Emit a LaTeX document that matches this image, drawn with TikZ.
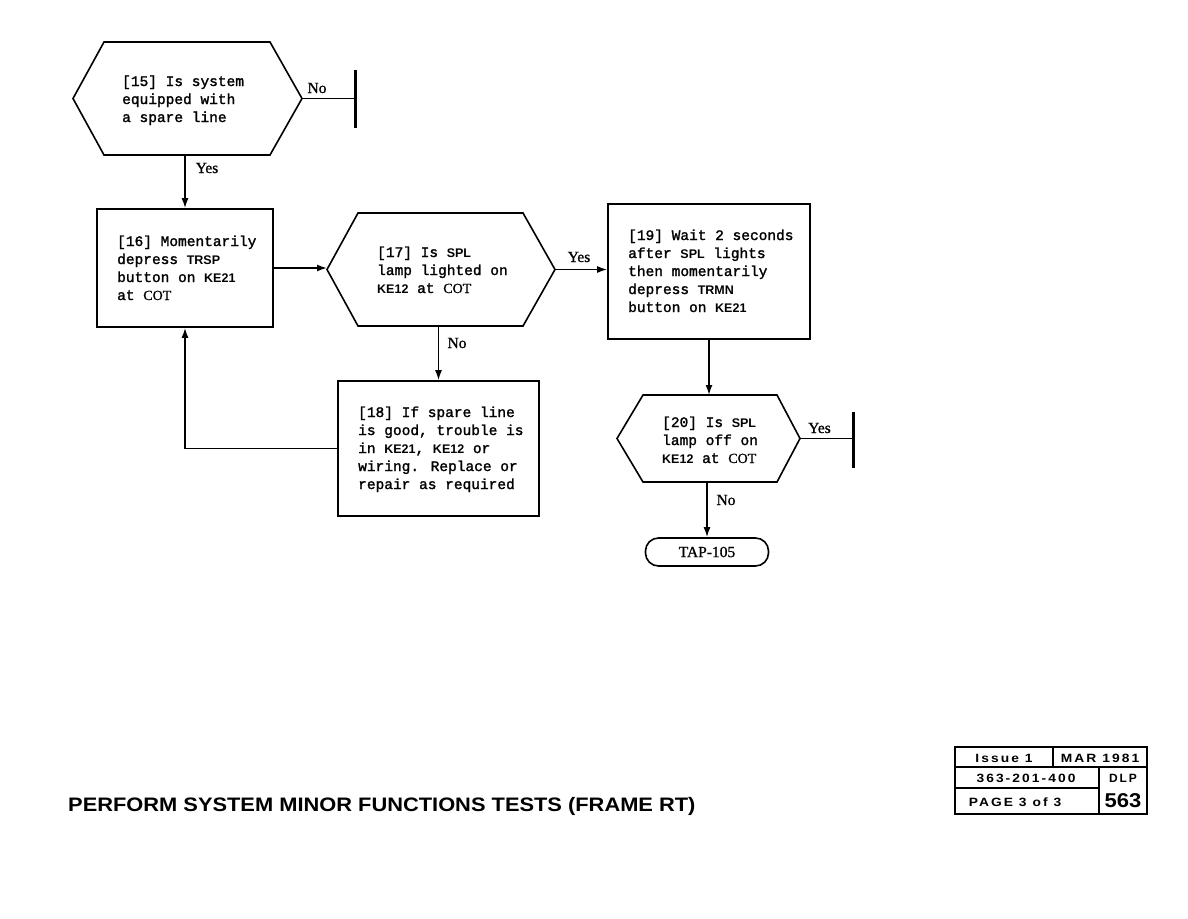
\documentclass[tikz,border=0pt]{standalone}
\usepackage{graphicx}
\usepackage{fontspec}
\usetikzlibrary{arrows.meta,calc}
\newfontfamily\hv{Liberation Sans}
\newfontfamily\hvs{Liberation Sans}[LetterSpace=15]
\newfontfamily\tm{Liberation Serif}[FakeBold=1]
\newfontfamily\mono{Liberation Mono}[FakeBold=1.6]
\newcommand\kw[1]{{\hv\bfseries\fontsize{12.5}{18}\selectfont #1}}
\newcommand\cotxt{{\tm\fontsize{14}{18}\selectfont COT}}
\newcommand\blk[1]{\begin{tabular}[t]{@{}l@{}}#1\end{tabular}}
\newcommand\drawhex[3]{\draw[hexline] (#1.west) -- ($(#1.north west)+(#2pt,0)$) -- ($(#1.north east)+(-#3pt,0)$) -- (#1.east) -- ($(#1.south east)+(-#3pt,0)$) -- ($(#1.south west)+(#2pt,0)$) -- cycle;}
\tikzset{
  box/.style={draw, line width=1.6pt, inner sep=0},
  hexbb/.style={inner sep=0, outer sep=0, draw=none},
  hexline/.style={line width=1.6pt, line join=miter},
  txt/.style={anchor=base west, inner sep=0, font=\mono\fontsize{14.5}{18}\selectfont},
  lbl/.style={inner sep=0, font=\tm\fontsize{15.5}{18}\selectfont},
  conn/.style={line width=1.6pt, -{Latex[length=10pt,width=7pt]}},
  plain/.style={line width=1.6pt},
  bar/.style={line width=3pt},
  tb/.style={inner sep=0, anchor=base, font=\hvs\bfseries\fontsize{12}{12}\selectfont},
}
\begin{document}
\begin{tikzpicture}[x=1pt,y=-1pt]
\useasboundingbox[fill=white] (0,0) rectangle (1188,918);

% [15]
\node[hexbb, minimum width=229pt, minimum height=113pt] (h15) at (187.5,98.5) {};
\drawhex{h15}{31}{32}
\node[txt] (t15) at (122,86) {\blk{[15] Is system\\ equipped with\\ a spare line}};
\coordinate (s15) at (355,98.5);
\draw[plain] (h15.east) -- (s15);
\draw[bar] ($(s15)+(0,-29)$) -- ($(s15)+(0,29)$);
\node[lbl] (no15) at (317,88) {No};

% [16]
\node[box, minimum width=176pt, minimum height=118pt] (b16) at (185,268) {};
\node[txt] (t16) at (117,246) {\blk{[16] Momentarily\\ depress \kw{TRSP}\\ button on \kw{KE21}\\ at \cotxt}};
\draw[conn] (b16.north |- h15.south) -- (b16.north);
\node[lbl] (yes15) at (207,168) {Yes};

% [17]
\node[hexbb, minimum width=228pt, minimum height=113pt] (h17) at (441,269.5) {};
\drawhex{h17}{31}{32}
\node[txt] (t17) at (377,257) {\blk{[17] Is \kw{SPL}\\ lamp lighted on\\ \kw{KE12} at \cotxt}};
\draw[conn] (b16.east) -- (b16.east -| h17.west);

% [19]
\node[box, minimum width=202pt, minimum height=135pt] (b19) at (709,271.5) {};
\node[txt] (t19) at (628,240) {\blk{[19] Wait 2 seconds\\ after \kw{SPL} lights\\ then momentarily\\ depress \kw{TRMN}\\ button on \kw{KE21}}};
\draw[conn] (h17.east) -- (h17.east -| b19.west);
\node[lbl] (yes17) at (579,257) {Yes};

% [18]
\node[box, minimum width=201pt, minimum height=135pt] (b18) at (438.5,448.5) {};
\node[txt] (t18) at (358,417) {\blk{[18] If spare line\\ is good, trouble is\\ in \kw{KE21}, \kw{KE12} or\\ wiring. Replace or\\ repair as required}};
\draw[conn] (b18.north |- h17.south) -- (b18.north);
\node[lbl] (no17) at (457,343) {No};
\draw[conn] (b18.west) -| (b16.south);

% [20]
\node[hexbb, minimum width=183pt, minimum height=87pt] (h20) at (708.5,438.5) {};
\drawhex{h20}{26}{23}
\node[txt] (t20) at (662,427) {\blk{[20] Is \kw{SPL}\\ lamp off on\\ \kw{KE12} at \cotxt}};
\draw[conn] (b19.south) -- (b19.south |- h20.north);
\coordinate (s20) at (853,438.5);
\draw[plain] (h20.east) -- (s20);
\draw[bar] ($(s20)+(0,-27)$) -- ($(s20)+(0,29)$);
\node[lbl] (yes20) at (819.5,428) {Yes};

% TAP-105
\node[draw, line width=1.6pt, rounded corners=13pt, minimum width=123pt, minimum height=28pt, inner sep=0, font=\tm\fontsize{15.5}{18}\selectfont] (tap) at (707,552) {TAP-105};
\draw[conn] (tap.north |- h20.south) -- (tap.north);
\node[lbl] (no20) at (726,500) {No};

% Title
\node[anchor=base west, inner sep=0, font=\hv\bfseries\fontsize{19.5}{20}\selectfont] (title) at (68,811) {\scalebox{1.12}[1]{PERFORM SYSTEM MINOR FUNCTIONS TESTS (FRAME RT)}};

% Title block
\draw[line width=1.6pt] (955,747) rectangle (1147,814);
\draw[line width=1.4pt] (955,767) -- (1147,767);
\draw[line width=1.4pt] (955,788) -- (1099,788);
\draw[line width=1.4pt] (1053,747) -- (1053,767);
\draw[line width=1.4pt] (1099,767) -- (1099,814);
\node[tb] (iss) at (1004,762) {\scalebox{1.15}[1]{Issue 1}};
\node[tb] (mar) at (1100,762) {\scalebox{1.15}[1]{MAR 1981}};
\node[tb] (num) at (1026,782.5) {\scalebox{1.15}[1]{363-201-400}};
\node[tb] (pg) at (1015,806) {\scalebox{1.15}[1]{PAGE 3 of 3}};
\node[tb] (dlp) at (1123,782.5) {DLP};
\node[tb, font=\hv\bfseries\fontsize{20}{20}\selectfont] (dlpn) at (1123,807) {\scalebox{1.1}[1]{563}};
\end{tikzpicture}
\end{document}
